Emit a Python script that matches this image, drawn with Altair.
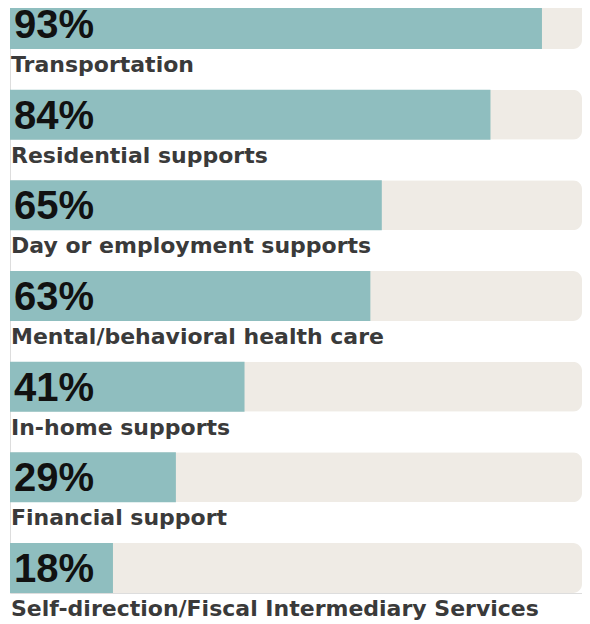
import altair as alt
import pandas as pd

categories = [
    "Transportation",
    "Residential supports",
    "Day or employment supports",
    "Mental/behavioral health care",
    "In-home supports",
    "Financial support",
    "Self-direction/Fiscal Intermediary Services",
]
values = [93, 84, 65, 63, 41, 29, 18]

df = pd.DataFrame({"category": categories, "value": values})
df["full"] = 100
df["pct"] = [f"{v}%" for v in values]

TEAL = "#8fbebf"
BEIGE = "#efebe5"

y = alt.Y("category:N", sort=None, axis=None,
          scale=alt.Scale(paddingInner=0.4487, paddingOuter=0))
xs = alt.Scale(domain=[0, 100], nice=False, zero=True)

base = alt.Chart(df)

bg = base.mark_bar(color=BEIGE, cornerRadiusTopRight=9, cornerRadiusBottomRight=9).encode(
    x=alt.X("full:Q", scale=xs, axis=None), y=y
)
fg = base.mark_bar(color=TEAL).encode(
    x=alt.X("value:Q", scale=xs, axis=None), y=y
)
pct = base.mark_text(
    align="left", baseline="alphabetic", dx=4, dy=14,
    font="Liberation Sans", fontWeight="bold", fontSize=40, color="#111111"
).encode(x=alt.value(0), y=y, text="pct:N")
lab = base.mark_text(
    align="left", baseline="alphabetic", dx=1, dy=48,
    font="DejaVu Sans", fontWeight="bold", fontSize=22, color="#3a3a3a"
).encode(x=alt.value(0), y=y, text="category:N")

chart = alt.layer(bg, fg, pct, lab).properties(
    width=572, height=594,
    autosize=alt.AutoSizeParams(type="none"),
    padding={"left": 2, "top": -9, "right": 0, "bottom": 27},
).configure_view(strokeWidth=0).configure(background="white")

chart.save("out.html", embed_options={"renderer": "svg", "actions": False})
